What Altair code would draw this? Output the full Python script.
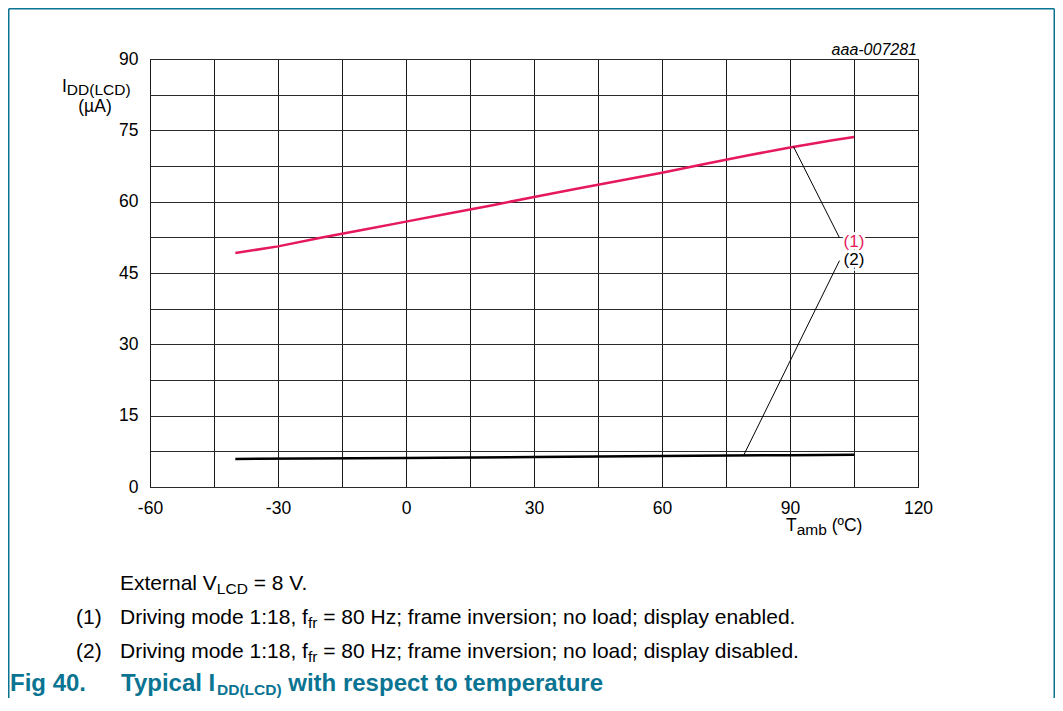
import altair as alt
import pandas as pd

FONT = "Liberation Sans"
RED = "#e5195b"
TEAL = "#0a7492"

# ---- data ----
temp_1 = [-40, -30, -20, -10, 0, 10, 20, 30, 40, 50, 60, 70, 80, 90, 100, 105]
idd_1 = [49.2, 50.6, 52.4, 54.1, 55.8, 57.5, 59.2, 61.0, 62.7, 64.4, 66.1, 67.9, 69.7, 71.4, 72.9, 73.6]
temp_2 = [-40, 0, 30, 60, 90, 105]
idd_2 = [5.9, 6.1, 6.3, 6.5, 6.7, 6.8]

x_ticks = list(range(-60, 121, 15))
y_ticks = [i * 7.5 for i in range(13)]

label_names = ["(1)", "(2)"]
label_x = [105.0, 105.0]
label_y = [51.6, 47.8]
leader_x = [90.8, 79.1]
leader_y = [71.6, 6.6]
leader_x2 = [101.6, 101.6]
leader_y2 = [52.4, 47.6]

# ---- tables ----
lines_df = pd.concat([
    pd.DataFrame({"x": temp_1, "y": idd_1, "s": "1"}),
    pd.DataFrame({"x": temp_2, "y": idd_2, "s": "2"}),
])
labels_df = pd.DataFrame({"x": label_x, "y": label_y, "t": label_names, "s": ["1", "2"]})
leaders_df = pd.DataFrame({"x": leader_x, "y": leader_y, "x2": leader_x2, "y2": leader_y2})

xscale = alt.Scale(domain=[-60, 120], nice=False, zero=False)
yscale = alt.Scale(domain=[0, 90], nice=False)
xaxis = alt.Axis(values=x_ticks, labelExpr="datum.value % 30 === 0 ? toString(datum.value) : ''",
                 grid=True, gridColor="#1a1a1a", gridWidth=1, ticks=False, domain=False,
                 labelFont=FONT, labelFontSize=17.5, labelColor="black", labelPadding=12,
                 labelFlush=False, labelOverlap=False, title=None)
yaxis = alt.Axis(values=y_ticks, labelExpr="datum.value % 15 === 0 ? toString(datum.value) : ''",
                 grid=True, gridColor="#2a2a2a", gridWidth=1, ticks=False, domain=False,
                 labelFont=FONT, labelFontSize=17.5, labelColor="black", labelPadding=12,
                 labelFlush=False, labelOverlap=False, title=None)
X = alt.X("x:Q", scale=xscale, axis=xaxis)
Y = alt.Y("y:Q", scale=yscale, axis=yaxis)
C = alt.Color("s:N", scale=alt.Scale(domain=["1", "2"], range=[RED, "black"]), legend=None)

lines = alt.Chart(lines_df).mark_line(strokeWidth=2.5).encode(x=X, y=Y, color=C, detail="s:N")
leaders = alt.Chart(leaders_df).mark_rule(strokeWidth=1, color="black").encode(
    x=X, y=Y, x2=alt.X2("x2:Q"), y2=alt.Y2("y2:Q"))
label_halo = alt.Chart(labels_df).mark_text(
    font=FONT, fontSize=17, baseline="middle", align="center",
    stroke="white", strokeWidth=5, fill="white").encode(x=X, y=Y, text="t:N")
labels = alt.Chart(labels_df).mark_text(font=FONT, fontSize=17, baseline="middle", align="center").encode(
    x=X, y=Y, text="t:N", color=C)

# ---- free text helpers ----
W_REG = {' ': 278, '(': 333, ')': 333, ',': 278, '-': 333, '.': 278, ':': 278, ';': 278, '=': 584,
         'C': 722, 'D': 722, 'E': 667, 'H': 722, 'I': 278, 'L': 556, 'T': 611, 'V': 667,
         'a': 556, 'b': 556, 'c': 500, 'd': 556, 'e': 556, 'f': 278, 'g': 556, 'h': 556, 'i': 222,
         'l': 222, 'm': 833, 'n': 556, 'o': 556, 'p': 556, 'r': 333, 's': 500, 't': 278, 'u': 556,
         'v': 500, 'x': 500, 'y': 500, 'z': 500, 'µ': 556, 'º': 365, 'A': 667}
W_BOLD = {' ': 278, '(': 333, ')': 333, '.': 278, 'C': 722, 'D': 722, 'F': 611, 'I': 278, 'L': 611,
          'T': 611, 'a': 556, 'c': 556, 'e': 556, 'g': 611, 'h': 611, 'i': 278, 'l': 278, 'm': 889,
          'o': 611, 'p': 611, 'r': 389, 's': 556, 't': 333, 'u': 611, 'w': 778, 'y': 556}
ONE = pd.DataFrame({"k": [0]})


def width(s, size, bold=False):
    t = W_BOLD if bold else W_REG
    return sum(t.get(c, 556) for c in s) * size / 1000.0


def seg(text, x, y, size, color="black", bold=False, italic=False, align="left"):
    kw = dict(text=text, font=FONT, fontSize=size, color=color, align=align, baseline="alphabetic")
    if bold:
        kw["fontWeight"] = "bold"
    if italic:
        kw["fontStyle"] = "italic"
    return alt.Chart(ONE).mark_text(**kw).encode(x=alt.value(x), y=alt.value(y))


def run(pieces, x0, y0, color="black", bold=False):
    out = []
    x = x0
    for text, size, dy in pieces:
        stripped = text.lstrip(" ")
        x += width(text[:len(text) - len(stripped)], size, bold)
        out.append(seg(stripped, x, y0 + dy, size, color, bold))
        x += width(stripped, size, bold)
    return out


def rule_v(x, y1, y2):
    return alt.Chart(ONE).mark_rule(color=TEAL, strokeWidth=1.5).encode(
        x=alt.value(x), y=alt.value(y1), y2=alt.value(y2))


def rule_h(x1, x2, y):
    return alt.Chart(ONE).mark_rule(color=TEAL, strokeWidth=1.5).encode(
        x=alt.value(x1), x2=alt.value(x2), y=alt.value(y))


texts = []
# y-axis title
texts += run([("I", 17.5, 0), ("DD(LCD)", 15.5, 3)], -88, 33)
texts.append(seg("(µA)", -55, 52.5, 17.5, align="center"))
# x-axis title
texts += run([("T", 17.5, 0), ("amb", 15.5, 4), (" (ºC)", 17.5, 0)], 636, 471.5)
# figure id
texts.append(seg("aaa-007281", 767, -4, 16, italic=True, align="right"))
# notes
texts += run([("External V", 21, 0), ("LCD", 15.5, 4), (" = 8 V.", 21, 0)], -30, 531)
texts.append(seg("(1)", -74, 564.5, 21))
texts += run([("Driving mode 1:18, f", 21, 0), ("fr", 15.5, 4),
              (" = 80 Hz; frame inversion; no load; display enabled.", 21, 0)], -30, 564.5)
texts.append(seg("(2)", -74, 598.5, 21))
texts += run([("Driving mode 1:18, f", 21, 0), ("fr", 15.5, 4),
              (" = 80 Hz; frame inversion; no load; display disabled.", 21, 0)], -30, 598.5)
# figure caption
texts.append(seg("Fig 40.", -140, 632, 24, color=TEAL, bold=True))
texts += run([("Typical I", 24, 0), ("DD(LCD)", 15.5, 3.5), (" with respect to temperature", 24, 0)],
             -29, 632, color=TEAL, bold=True)

frame = [rule_v(-141.25, -50.25, 640), rule_h(-141.25, 904.25, -50.25), rule_v(904.25, -50.25, 640)]

chart = alt.layer(lines, label_halo, leaders, labels, *texts, *frame).properties(
    width=768, height=428,
    autosize=alt.AutoSizeParams(type="none"),
    padding={"left": 142, "top": 51, "right": 137, "bottom": 211},
    background="white",
).configure_view(stroke="black", strokeWidth=1)

chart.save("out.html", embed_options={"renderer": "svg", "actions": False})
